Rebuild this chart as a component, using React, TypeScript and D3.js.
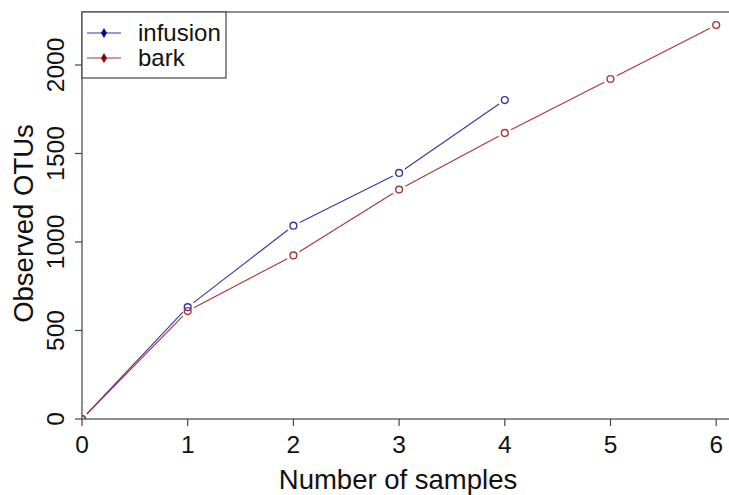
import * as d3 from 'd3'

const samples = [0, 1, 2, 3, 4, 5, 6]
const infusion = [0, 632, 1092, 1390, 1802]
const bark = [0, 610, 924, 1296, 1616, 1921, 2226]
const xTicks = [0, 1, 2, 3, 4, 5, 6]
const yTicks = [0, 500, 1000, 1500, 2000]
const seriesNames = ['infusion', 'bark']

const W = 729
const H = 495
const left = 82
const top = 12
const bottom = 419
const FONT = '"Liberation Sans", Arial, sans-serif'

const lineCol = ['#3535aa', '#aa3535']
const markCol = ['#00008b', '#8b0000']

export default function App() {
  const x = d3.scaleLinear().domain([0, 6.2]).range([left, left + 6.2 * 105.7])
  const y = d3.scaleLinear().domain([0, 2000]).range([bottom, 65])
  const right = x(6.2)

  const gap = 7
  const segs = (vals: number[]) => {
    const pts = vals.map((v, i) => [x(samples[i]), y(v)] as [number, number])
    const out: [number, number, number, number][] = []
    for (let i = 0; i < pts.length - 1; i++) {
      const [x0, y0] = pts[i]
      const [x1, y1] = pts[i + 1]
      const len = Math.hypot(x1 - x0, y1 - y0)
      const ux = (x1 - x0) / len
      const uy = (y1 - y0) / len
      out.push([x0 + ux * gap, y0 + uy * gap, x1 - ux * gap, y1 - uy * gap])
    }
    return { pts, out }
  }
  const series = [segs(infusion), segs(bark)]
  const line = d3.line()

  return (
    <svg width={W} height={H} style={{ position: 'absolute', left: 0, top: 0, background: '#fff' }} fontFamily={FONT}>
      <defs>
        <clipPath id="plot">
          <rect x={left} y={top} width={right - left} height={bottom - top} />
        </clipPath>
      </defs>
      <g clipPath="url(#plot)">
        {series.map((s, k) => (
          <g key={k}>
            {s.out.map((sg, i) => (
              <path key={i} d={line([[sg[0], sg[1]], [sg[2], sg[3]]]) || ''} stroke={lineCol[k]} strokeWidth={1.1} fill="none" />
            ))}
            {s.pts.map((p, i) => (
              <circle key={i} cx={p[0]} cy={p[1]} r={3.4} fill="none" stroke={lineCol[k]} strokeWidth={1.4} />
            ))}
          </g>
        ))}
      </g>
      <rect x={left} y={top} width={right - left} height={bottom - top} fill="none" stroke="#444" strokeWidth={1.2} />
      {xTicks.map(t => (
        <g key={t}>
          <line x1={x(t)} x2={x(t)} y1={bottom} y2={bottom + 7} stroke="#444" strokeWidth={1.2} />
          <text x={x(t)} y={453} fontSize={24.5} textAnchor="middle" fill="#111">{t}</text>
        </g>
      ))}
      {yTicks.map(t => (
        <g key={t}>
          <line x1={left - 7} x2={left} y1={y(t)} y2={y(t)} stroke="#444" strokeWidth={1.2} />
          <text transform={`translate(64,${y(t)}) rotate(-90)`} fontSize={24.5} textAnchor="middle" fill="#111">{t}</text>
        </g>
      ))}
      <text x={398} y={489} fontSize={27.5} textAnchor="middle" fill="#111">Number of samples</text>
      <text transform={`translate(33,${(top + bottom) / 2 + 8}) rotate(-90)`} fontSize={27.5} textAnchor="middle" fill="#111">Observed OTUs</text>
      <rect x={left} y={top} width={144} height={66} fill="#fff" stroke="#444" strokeWidth={1.2} />
      {seriesNames.map((n, k) => {
        const ly = 33 + k * 25
        return (
          <g key={n}>
            <line x1={87} x2={121} y1={ly} y2={ly} stroke={lineCol[k]} strokeWidth={1.1} />
            <path d={d3.symbol(d3.symbolDiamond, 30)() || ''} transform={`translate(104,${ly})`} fill={markCol[k]} />
            <text x={138} y={ly + 8} fontSize={24} fill="#111">{n}</text>
          </g>
        )
      })}
    </svg>
  )
}
